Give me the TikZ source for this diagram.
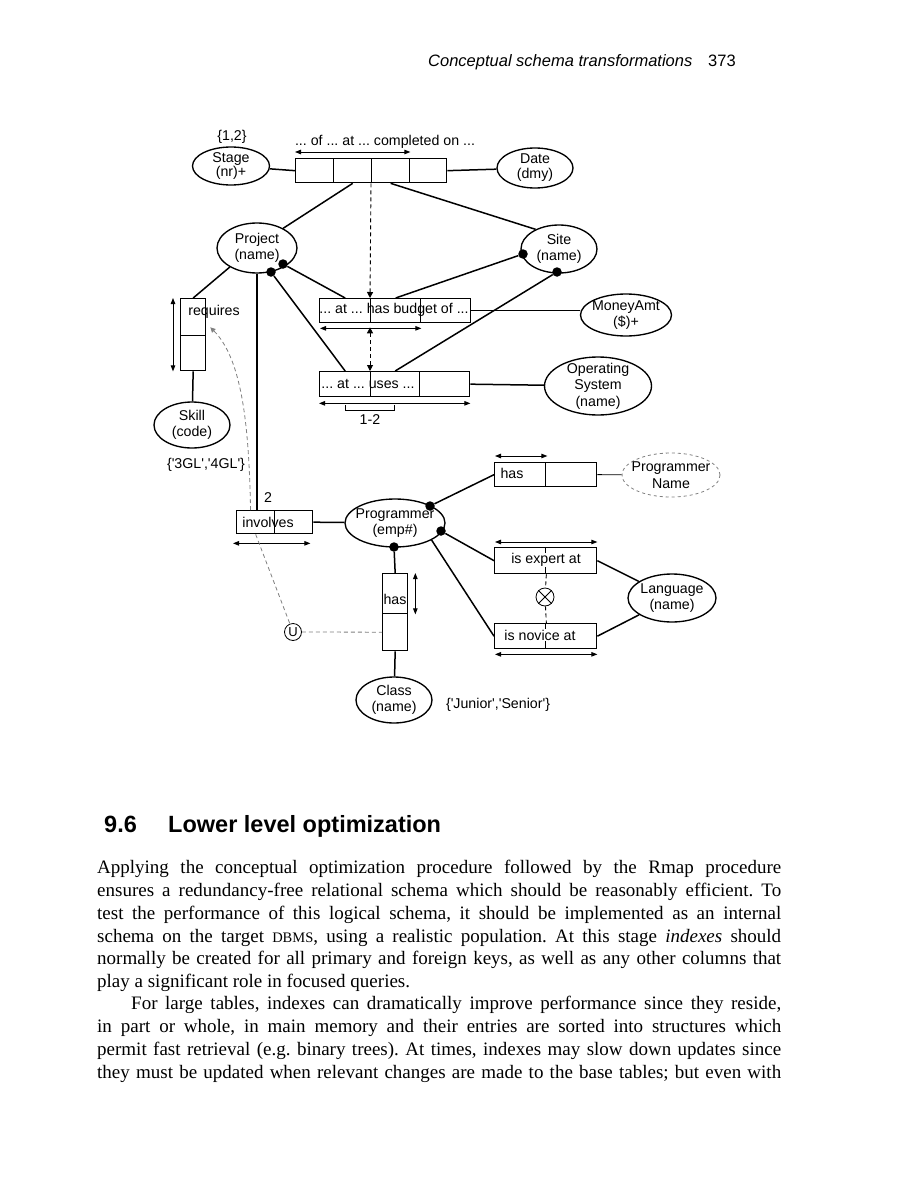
\documentclass[tikz,border=0pt]{standalone}
\usepackage{fontspec}
\setmainfont{Liberation Serif}
\newfontfamily\dfont{Liberation Sans}
\usetikzlibrary{shapes.geometric,arrows.meta,calc}
\frenchspacing
\begin{document}
\begin{tikzpicture}[x=1pt,y=-1pt,
  ent/.style={ellipse, draw, line width=1.35pt, inner sep=0pt},
  etxt/.style={font=\dfont\fontsize{14.2}{16.5}\selectfont, align=center, inner sep=0pt},
  cell/.style={rectangle, draw, line width=1.35pt, inner sep=0pt, anchor=north west},
  lbl/.style={font=\dfont\fontsize{14.2}{16}\selectfont, inner sep=0pt},
  ln/.style={line width=1.5pt},
  thinln/.style={line width=0.9pt},
  rarr/.style={line width=0.9pt, {Triangle[length=6pt,width=4.5pt]}-{Triangle[length=6pt,width=4.5pt]}},
  cdash/.style={line width=0.9pt, dash pattern=on 4pt off 3pt},
  gdash/.style={line width=0.8pt, gray, dash pattern=on 4pt off 3pt},
  dot/.style={circle, fill, inner sep=0pt, minimum size=9.5pt},
  body/.style={font=\fontsize{19}{22.8}\selectfont, inner sep=0pt, anchor=base west}]
\fill[white] (0,0) rectangle (918,1188);
\useasboundingbox (0,0) rectangle (918,1188);

% header
\node[anchor=base west, inner sep=0pt, font=\dfont\itshape\fontsize{16.5}{18}\selectfont] (hdr) at (428,67) {Conceptual schema transformations};
\node[anchor=base west, inner sep=0pt, font=\dfont\fontsize{16.5}{18}\selectfont] (pg) at (708,67) {373};

% entity types
\node[ent, minimum width=77pt, minimum height=38pt, label={[etxt, font=\dfont\fontsize{14.2}{14}\selectfont]center:Stage\\(nr)+}] (stage) at (231,166) {};
\node[ent, minimum width=76pt, minimum height=40pt, label={[etxt, font=\dfont\fontsize{14.2}{15}\selectfont]center:Date\\(dmy)}] (date) at (535,168) {};
\node[ent, minimum width=80pt, minimum height=50pt, label={[etxt]center:Project\\(name)}] (proj) at (257,248) {};
\node[ent, minimum width=76pt, minimum height=48pt, label={[etxt]center:Site\\(name)}] (site) at (559,249) {};
\node[ent, minimum width=91pt, minimum height=42pt, label={[etxt]center:MoneyAmt\\(\$)+}] (money) at (626,315) {};
\node[ent, minimum width=107pt, minimum height=58pt, label={[etxt]center:Operating\\System\\(name)}] (os) at (598,386) {};
\node[ent, minimum width=76pt, minimum height=46pt, label={[etxt]center:Skill\\(code)}] (skill) at (192,425) {};
\node[ent, minimum width=100pt, minimum height=48pt, label={[etxt]center:Programmer\\(emp\#)}] (prog) at (395,523) {};
\node[ent, minimum width=76pt, minimum height=46pt, label={[etxt]center:Class\\(name)}] (cls) at (394,700) {};
\node[ent, minimum width=88pt, minimum height=48pt, label={[etxt]center:Language\\(name)}] (lang) at (672,598) {};
\node[ent, draw=gray, line width=0.8pt, dash pattern=on 3pt off 3pt, minimum width=98pt, minimum height=44pt, label={[etxt]center:Programmer\\Name}] (pn) at (671,475) {};

% fact type boxes
\node[cell, minimum width=38pt, minimum height=24pt] (c1) at (295,158) {};
\node[cell, minimum width=38pt, minimum height=24pt] (c2) at (333,158) {};
\node[cell, minimum width=38pt, minimum height=24pt] (c3) at (371,158) {};
\node[cell, minimum width=37pt, minimum height=24pt] (c4) at (409,158) {};

\node[cell, minimum width=51pt, minimum height=24pt] (hb1) at (319,298) {};
\node[cell, minimum width=50pt, minimum height=24pt] (hb2) at (370,298) {};
\node[cell, minimum width=50pt, minimum height=24pt] (hb3) at (420,298) {};

\node[cell, minimum width=51pt, minimum height=25pt] (us1) at (319,371) {};
\node[cell, minimum width=49pt, minimum height=25pt] (us2) at (370,371) {};
\node[cell, minimum width=50pt, minimum height=25pt] (us3) at (419,371) {};

\node[cell, minimum width=25pt, minimum height=37pt] (rq1) at (180,298) {};
\node[cell, minimum width=25pt, minimum height=35pt] (rq2) at (180,335) {};

\node[cell, minimum width=38pt, minimum height=23pt] (iv1) at (236,510) {};
\node[cell, minimum width=38pt, minimum height=23pt] (iv2) at (274,510) {};

\node[cell, minimum width=25pt, minimum height=40pt] (hs1) at (382,573) {};
\node[cell, minimum width=25pt, minimum height=37pt] (hs2) at (382,613) {};

\node[cell, minimum width=51pt, minimum height=24pt] (ph1) at (494,462) {};
\node[cell, minimum width=51pt, minimum height=24pt] (ph2) at (545,462) {};

\node[cell, minimum width=51pt, minimum height=26pt] (ex1) at (494,547) {};
\node[cell, minimum width=51pt, minimum height=26pt] (ex2) at (545,547) {};

\node[cell, minimum width=51pt, minimum height=25pt] (nv1) at (494,623) {};
\node[cell, minimum width=51pt, minimum height=25pt] (nv2) at (545,623) {};

% labels
\node[lbl] (t12) at (232,137) {\{1,2\}};
\node[lbl] (tcomp) at (385,142) {... of ... at ... completed on ...};
\node[lbl] (thb) at (394,310) {... at ... has budget of ...};
\node[lbl] (tus) at (368,384) {... at ... uses ...};
\node[lbl] (t1-2) at (370,420) {1-2};
\node[lbl] (treq) at (214,312) {requires};
\node[lbl] (tgl) at (206,465) {\{'3GL','4GL'\}};
\node[lbl] (ttwo) at (268,498) {2};
\node[lbl] (tinv) at (268,522) {involves};
\node[lbl] (thas) at (395,599) {has};
\node[lbl] (tphas) at (512,473) {has};
\node[lbl, fill=white, inner sep=0.5pt] (tex) at (546,560) {is expert at};
\node[lbl, fill=white, inner sep=0.5pt] (tnv) at (540,635) {is novice at};
\node[lbl] (tjs) at (498,705) {\{'Junior','Senior'\}};

% constraint symbols
\node[circle, draw, line width=0.8pt, inner sep=0pt, minimum size=17pt, font=\dfont\fontsize{13}{13}\selectfont] (uc) at (293,632) {U};
\node[circle, draw, line width=0.8pt, inner sep=0pt, minimum size=18pt] (xo) at (545,597) {};
\draw[thinln] (xo.45) -- (xo.225) (xo.135) -- (xo.-45);

% dots
\node[dot] (pd1) at (271,272) {};
\node[dot] (pd2) at (283,264) {};
\node[dot] (sd1) at (523,254) {};
\node[dot] (sd2) at (557,272) {};
\node[dot] (gd1) at (430,506) {};
\node[dot] (gd2) at (441,531) {};
\node[dot] (gd3) at (394,547) {};

% connectors
\draw[ln] (c1.west) -- (stage);
\draw[ln] (c4.east) -- (date);
\draw[ln] (c2.south) -- (proj.37);
\draw[ln] (c3.south) -- (site.140);
\draw[ln] (pd2) -- (hb1.north);
\draw[ln] (sd1) -- (hb2.north);
\draw[ln] (pd1) -- (us1.north);
\draw[ln] (sd2) -- (us2.north);
\draw[ln] (hb3.east) -- (hb3.east -| money.west);
\draw[ln] (us3.east) -- (os);
\draw[ln] (proj.215) -- (rq1.north);
\draw[ln] (rq2.south) -- (skill);
\draw[ln] (proj.south) -- (proj.south |- iv1.north);
\draw[ln] (iv2.east) -- (prog);
\draw[ln] (gd3) -- (hs1.north);
\draw[ln] (hs2.south) -- (cls);
\draw[ln] (gd1) -- (ph1.west);
\draw[thinln] (ph2.east) -- (pn);
\draw[ln] (gd2) -- (ex1.west);
\draw[ln] (prog.-25) -- (nv1.west);
\draw[ln] (ex2.east) -- (lang);
\draw[ln] (nv2.east) -- (lang);

% uniqueness bars
\draw[rarr] ($(c1.north west)+(0,-6)$) -- ($(c3.north east)+(0,-6)$);
\draw[rarr] ($(hb1.south west)+(1,5)$) -- ($(hb2.south east)+(0,5)$);
\draw[rarr] ($(us1.south west)+(0,6)$) -- ($(us3.south east)+(0,6)$);
\draw[thinln] ($(us1.south west)+(26,8)$) -- ++(0,5) -- ++(49,0) -- ++(0,-5);
\draw[rarr] ($(rq1.north west)+(-7,0)$) -- ($(rq2.south west)+(-7,0)$);
\draw[rarr] ($(iv1.south west)+(-3,9)$) -- ($(iv2.south east)+(-3,9)$);
\draw[rarr] ($(hs1.north east)+(7,0)$) -- ($(hs1.south east)+(7,0)$);
\draw[rarr] ($(ph1.north west)+(1,-6)$) -- ($(ph1.north east)+(1,-6)$);
\draw[rarr] ($(ex1.north west)+(1,-5)$) -- ($(ex2.north east)+(0,-5)$);
\draw[rarr] ($(nv1.south west)+(1,5)$) -- ($(nv2.south east)+(0,5)$);

% constraint connectors
\draw[cdash, -{Triangle[length=6pt,width=6pt]}] (c3.south west) -- (hb2.north west);
\draw[cdash, {Triangle[length=6pt,width=6pt]}-{Triangle[length=6pt,width=6pt]}] ($(hb2.south west)+(0,4)$) -- (us2.north west);
\draw[cdash] (ex1.south east) -- (xo);
\draw[cdash] (xo) -- (nv1.north east);
\draw[gdash, -{Triangle[length=5pt,width=5pt]}] ($(iv1.north west)!0.37!(iv1.north east)$) .. controls (249,430) and (243,360) .. ($(rq1.south east)+(4,-9)$);
\draw[gdash] ($(iv1.south west)!0.5!(iv1.south east)$) -- (uc);
\draw[gdash] (uc) -- (hs2.west);

% heading
\node[anchor=base west, inner sep=0pt, font=\dfont\bfseries\fontsize{23.5}{26}\selectfont] (secn) at (104,832) {9.6};
\node[anchor=base west, inner sep=0pt, font=\dfont\bfseries\fontsize{23.5}{26}\selectfont] (sect) at (168,832) {Lower level optimization};

% body text
\node[body] (l1) at (97,873) {\makebox[684pt][s]{Applying the conceptual optimization procedure followed by the Rmap procedure}};
\node[body] (l2) at (97,896) {\makebox[684pt][s]{ensures a redundancy-free relational schema which should be reasonably efficient. To}};
\node[body] (l3) at (97,919) {\makebox[684pt][s]{test the performance of this logical schema, it should be implemented as an internal}};
\node[body] (l4) at (97,942) {\makebox[684pt][s]{schema on the target {\fontsize{14.5}{14.5}\selectfont DBMS}, using a realistic population. At this stage \textit{indexes} should}};
\node[body] (l5) at (97,964) {\makebox[684pt][s]{normally be created for all primary and foreign keys, as well as any other columns that}};
\node[body] (l6) at (97,987) {play a significant role in focused queries.};
\node[body] (l7) at (131,1009) {\makebox[650pt][s]{For large tables, indexes can dramatically improve performance since they reside,}};
\node[body] (l8) at (97,1032) {\makebox[684pt][s]{in part or whole, in main memory and their entries are sorted into structures which}};
\node[body] (l9) at (97,1055) {\makebox[684pt][s]{permit fast retrieval (e.g. binary trees). At times, indexes may slow down updates since}};
\node[body] (l10) at (97,1078) {\makebox[684pt][s]{they must be updated when relevant changes are made to the base tables; but even with}};
\end{tikzpicture}
\end{document}
